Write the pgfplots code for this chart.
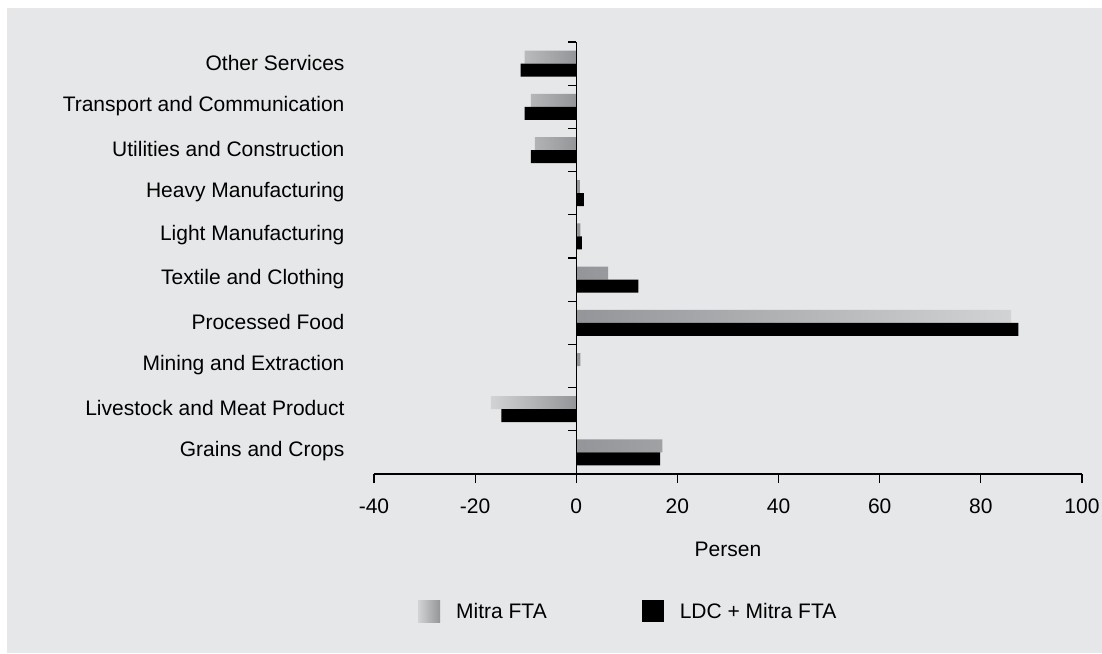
\documentclass[border=0pt]{standalone}
\usepackage{pgfplots}
\pgfplotsset{compat=1.18}
\usepackage{fontspec}
\setmainfont{Liberation Sans}
\definecolor{bgc}{HTML}{E6E7E8}
\definecolor{mdark}{HTML}{939598}
\definecolor{mlight}{HTML}{D1D3D4}
\begin{document}
\begin{tikzpicture}[x=1pt,y=1pt,font=\fontsize{21pt}{25pt}\selectfont]
\useasboundingbox (-374,-179) rectangle (728,474);
\fill[bgc] (-367,-179) rectangle (728,466);
\begin{axis}[
  at={(0,0)}, anchor=south west,
  scale only axis, width=708pt, height=432pt,
  xmin=-40, xmax=100, ymin=-0.5, ymax=9.5,
  axis x line*=bottom, axis y line*=left,
  x axis line style={-, line width=1.2pt},
  y axis line style={draw=none},
  xtick={-40,-20,0,20,40,60,80,100},
  x tick style={line width=1.2pt, black},
  tick align=outside, major tick length=9pt,
  x tick label style={yshift=-12pt},
  /pgf/number format/assume math mode=true,
  ytick={0,...,9},
  yticklabels={Grains and Crops,Livestock and Meat Product,Mining and Extraction,Processed Food,Textile and Clothing,Light Manufacturing,Heavy Manufacturing,Utilities and Construction,Transport and Communication,Other Services},
  y tick style={draw=none},
  yticklabel style={anchor=east, xshift=-17pt, yshift=1pt},
  xlabel={Persen},
  xlabel style={at={(axis description cs:0.5,0)}, anchor=center, yshift=-75pt},
  xbar, bar width=13pt,
  legend columns=2,
  legend cell align=left,
  legend style={at={(axis description cs:0.0621,-0.318)}, anchor=west, draw=none, fill=none, inner sep=0pt,
    cells={anchor=west},
    /tikz/every odd column/.append style={column sep=14pt},
    /tikz/every even column/.append style={column sep=93pt}},
  clip=false,
]
\addplot[xbar, bar shift=6.5pt, draw=none, left color=mdark, right color=mlight,
  legend image code/.code={\shade[left color=mlight,right color=mdark] (0pt,-11pt) rectangle (22pt,11pt);}]
  coordinates {(17.0,0) (0.8,2) (86.0,3) (6.3,4) (0.8,5) (0.7,6)};
\addlegendentry{Mitra FTA}
\addplot[xbar, bar shift=6.5pt, draw=none, left color=mlight, right color=mdark, forget plot]
  coordinates {(-16.9,1) (-8.2,7) (-9.0,8) (-10.2,9)};
\addplot[xbar, bar shift=-6.5pt, draw=none, fill=black,
  legend image code/.code={\fill[black] (0pt,-11pt) rectangle (22pt,11pt);}]
  coordinates {(16.6,0) (-14.8,1) (0,2) (87.4,3) (12.3,4) (1.1,5) (1.5,6) (-9.0,7) (-10.2,8) (-11.0,9)};
\addlegendentry{LDC + Mitra FTA}
\draw[line width=1.2pt] (axis cs:0,-0.5) -- (axis cs:0,9.5);
\pgfplotsinvokeforeach{0.5,1.5,2.5,3.5,4.5,5.5,6.5,7.5,8.5,9.5}{\draw[line width=1.2pt] (axis cs:0,#1) -- ++(-8pt,0pt);}
\end{axis}
\end{tikzpicture}
\end{document}
